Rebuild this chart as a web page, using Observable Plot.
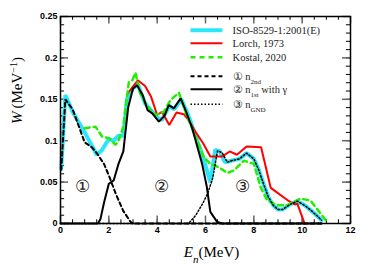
<!DOCTYPE html>
<html><head><meta charset="utf-8">
<script src="https://cdn.jsdelivr.net/npm/d3@7"></script>
<script src="https://cdn.jsdelivr.net/npm/@observablehq/plot@0.6"></script>
<style>body{margin:0;background:#fff}</style>
</head><body><div id="chart"></div>
<script>
// ISO-8529-1:2001(E)
const isoE = [0.03,0.2,0.5,1.0,1.5,1.7,2.0,2.2,2.4,2.6,2.75,3.0,3.2,3.5,3.8,4.0,4.2,4.5,4.7,5.0,5.3,5.6,5.9,6.2,6.4,6.6,6.8,7.1,7.4,7.7,8.0,8.2,8.4,8.6,8.8,9.0,9.2,9.5,9.8,10.1,10.4,10.7,10.8];
const isoW = [0.066,0.155,0.135,0.11,0.083,0.088,0.102,0.1,0.106,0.106,0.15,0.163,0.168,0.145,0.135,0.128,0.125,0.142,0.138,0.15,0.13,0.105,0.08,0.05,0.089,0.087,0.074,0.076,0.078,0.085,0.078,0.065,0.048,0.032,0.022,0.017,0.017,0.023,0.027,0.022,0.015,0.007,0.004];
// Lorch, 1973
const lorchE = [2.75,3.2,3.5,3.75,4.0,4.2,4.5,4.8,5.1,5.3,5.6,5.9,6.2,6.7,7.0,7.3,7.7,8.3,8.7,9.4,9.7,9.8,10.1];
const lorchW = [0.156,0.173,0.166,0.153,0.131,0.135,0.119,0.134,0.132,0.125,0.11,0.097,0.081,0.081,0.087,0.083,0.093,0.092,0.043,0.028,0.023,0.024,0.0];
// Kostal, 2020
const kostalE = [1.0,1.45,1.72,2.0,2.28,2.4,2.6,2.83,2.97,3.1,3.3,3.6,3.93,4.28,4.55,4.9,5.24,5.66,5.93,6.2,6.55,6.9,7.17,7.59,8.0,8.28,8.55,8.97,9.38,9.93,10.34,10.76,11.03];
const kostalW = [0.115,0.117,0.105,0.103,0.095,0.1,0.117,0.171,0.173,0.182,0.157,0.141,0.131,0.135,0.149,0.158,0.129,0.1,0.08,0.072,0.068,0.061,0.064,0.076,0.072,0.044,0.028,0.022,0.022,0.03,0.028,0.012,0.002];
// n_2nd
const n2E = [0.03,0.2,0.5,1.0,1.3,1.5,1.8,2.0,2.3,2.6,2.9,3.0,10.8];
const n2W = [0.065,0.15,0.138,0.098,0.092,0.085,0.072,0.058,0.035,0.015,0.002,0,0];
// n_1st with gamma
const n1E = [0,1.55,1.65,1.8,2.0,2.2,2.4,2.6,2.8,3.0,3.17,3.4,3.6,3.8,4.07,4.3,4.48,4.69,4.97,5.2,5.45,5.86,6.05,6.2,6.48,6.7,10.8];
const n1W = [0,0,0.005,0.025,0.048,0.052,0.072,0.087,0.14,0.163,0.167,0.155,0.137,0.133,0.123,0.13,0.143,0.139,0.151,0.135,0.115,0.072,0.045,0.014,0.002,0,0];
// n_GND
const gndE = [0,5.3,5.6,5.9,6.1,6.3,6.5,6.7,6.9,7.1,7.4,7.7,8.0,8.2,8.4,8.6,8.8,9.0,9.2,9.5,9.8,10.1,10.4,10.7,10.8];
const gndW = [0,0,0.01,0.025,0.037,0.055,0.088,0.085,0.074,0.076,0.078,0.085,0.078,0.065,0.048,0.032,0.022,0.017,0.017,0.023,0.027,0.022,0.015,0.007,0.004];

const xTicks = [0,2,4,6,8,10,12];
const yTicks = [0,0.05,0.1,0.15,0.2,0.25];
const xMinor = d3.range(0, 12.01, 0.5);
const yMinor = d3.range(0, 0.2501, 0.01);

const legendLabels = ["ISO-8529-1:2001(E)","Lorch, 1973","Kostal, 2020","① n_{2nd}","② n_{1st} with γ","③ n_{GND}"];
const legendW = [0.2335,0.2178,0.2009,0.1779,0.1622,0.1441];
const regionLabels = ["①","②","③"];
const regionE = [0.91,4.18,7.53];
const regionW = [0.045,0.045,0.045];

const pts = (xs, ys) => xs.map((x,i)=>({x, y: ys[i]}));
const styles = [
  {stroke:"#2ae6fa", strokeWidth:4},
  {stroke:"#ff0000", strokeWidth:2},
  {stroke:"#22ee00", strokeWidth:2.5, strokeDasharray:"5,4"},
  {stroke:"#000", strokeWidth:2, strokeDasharray:"4,3"},
  {stroke:"#000", strokeWidth:2},
  {stroke:"#000", strokeWidth:1.5, strokeDasharray:"1.5,2"}
];
const series = [pts(isoE,isoW), pts(lorchE,lorchW), pts(kostalE,kostalW), pts(n2E,n2W), pts(n1E,n1W), pts(gndE,gndW)];
const legendData = legendLabels.map((t,i)=>({t, y: legendW[i], i}));

const serif = "'Liberation Serif','DejaVu Serif',serif";
const sans = "'Liberation Sans',Arial,sans-serif";

const plot = Plot.plot({
  width: 374, height: 275,
  marginLeft: 60, marginRight: 24, marginTop: 16, marginBottom: 52,
  style: {background: "#fff"},
  x: {domain: [0,12], axis: null},
  y: {domain: [0,0.25], axis: null},
  marks: [
    Plot.ruleX(xMinor, {x: d=>d, y1: 0, y2: 0.0045, stroke: "#000", strokeWidth: 1}),
    Plot.ruleX(xMinor, {x: d=>d, y1: 0.25, y2: 0.2455, stroke: "#000", strokeWidth: 1}),
    Plot.ruleY(yMinor, {y: d=>d, x1: 0, x2: 0.17, stroke: "#000", strokeWidth: 1}),
    Plot.ruleY(yMinor, {y: d=>d, x1: 12, x2: 11.83, stroke: "#000", strokeWidth: 1}),
    Plot.ruleX(xTicks, {x: d=>d, y1: 0, y2: 0.009, stroke: "#666", strokeWidth: 1.5}),
    Plot.ruleX(xTicks, {x: d=>d, y1: 0.25, y2: 0.241, stroke: "#666", strokeWidth: 1.5}),
    Plot.ruleY(yTicks, {y: d=>d, x1: 0, x2: 0.33, stroke: "#666", strokeWidth: 1.5}),
    Plot.ruleY(yTicks, {y: d=>d, x1: 12, x2: 11.67, stroke: "#666", strokeWidth: 1.5}),
    Plot.axisX({ticks: xTicks, tickSize: 0, tickPadding: 3, fontSize: 9, fontWeight: "bold", fontFamily: sans, label: null, tickFormat: d=>String(d)}),
    Plot.axisY({ticks: yTicks, tickSize: 0, tickPadding: 3, fontSize: 9, fontWeight: "bold", fontFamily: sans, label: null, tickFormat: d=>String(d)}),
    ...series.map((s,i)=>Plot.line(s, {x:"x", y:"y", ...styles[i], strokeLinejoin:"miter"})),
    Plot.frame({stroke: "#000", strokeWidth: 1.5}),
    ...legendData.map(d=>Plot.link([d], {x1: ()=>5.38, x2: ()=>6.7, y1: "y", y2: "y", ...styles[d.i]})),
    Plot.text(legendData, {x: ()=>7.12, y: "y", text: "t", textAnchor: "start", fontSize: 10.5, fontFamily: serif, fill: "#222"}),
    Plot.text(regionLabels, {x: (d,i)=>regionE[i], y: (d,i)=>regionW[i], text: d=>d, fontSize: 17, fontFamily: serif, fill: "#222"}),
    Plot.text(["YLABEL"], {frameAnchor: "left", text: d=>d, rotate: -90, dx: -43, dy: 4, fontSize: 15, fontFamily: serif}),
    Plot.text(["XLABEL"], {frameAnchor: "bottom", text: d=>d, dy: 33, dx: 6, fontSize: 15, fontFamily: serif})
  ]
});
document.getElementById("chart").appendChild(plot);

plot.querySelectorAll("text").forEach(t => {
  const s = t.textContent;
  if (s === "YLABEL") {
    t.innerHTML = '<tspan font-style="italic">W</tspan>\u2009(MeV<tspan baseline-shift="super" font-size="10">\u22121</tspan>)';
  } else if (s === "XLABEL") {
    t.innerHTML = '<tspan font-style="italic">E</tspan><tspan baseline-shift="sub" font-size="11" font-style="italic">n</tspan>(MeV)';
  } else if (s.includes("_{")) {
    t.innerHTML = s.replace(/_\{([^}]*)\}/g, '<tspan baseline-shift="sub" font-size="7">$1</tspan>');
  }
});
</script>
</body></html>
